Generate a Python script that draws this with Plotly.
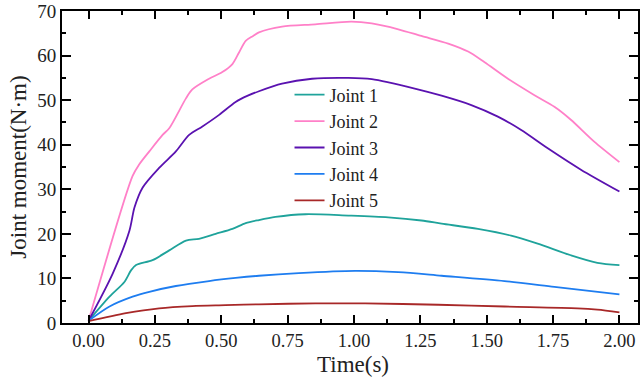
import plotly.graph_objects as go

t1 = [0, 0.079, 0.135, 0.16, 0.179, 0.241, 0.304, 0.367, 0.416, 0.479, 0.542, 0.592, 0.642, 0.704, 0.817, 0.979, 1.129, 1.254, 1.33, 1.467, 1.592, 1.692, 1.817, 1.917, 2.0]
j1 = [0.5, 5.9, 9.2, 11.8, 13.0, 14.1, 16.3, 18.5, 18.9, 20.0, 21.1, 22.4, 23.1, 23.8, 24.4, 24.1, 23.7, 23.0, 22.3, 21.1, 19.6, 17.8, 15.2, 13.5, 13.0]

t2 = [0, 0.166, 0.19, 0.229, 0.279, 0.304, 0.367, 0.391, 0.454, 0.504, 0.542, 0.567, 0.592, 0.62, 0.642, 0.729, 0.854, 0.99, 1.067, 1.167, 1.254, 1.355, 1.43, 1.492, 1.58, 1.68, 1.755, 1.817, 1.905, 2.0]
j2 = [0.5, 33.0, 35.5, 38.5, 42.2, 43.7, 50.4, 52.4, 54.8, 56.3, 58.1, 60.7, 63.3, 64.4, 65.2, 66.5, 67.0, 67.6, 67.2, 65.9, 64.4, 62.7, 60.9, 58.5, 54.8, 51.1, 48.5, 45.6, 40.7, 36.1]

t3 = [0, 0.091, 0.154, 0.173, 0.204, 0.266, 0.329, 0.379, 0.429, 0.492, 0.554, 0.6, 0.642, 0.729, 0.842, 0.979, 1.067, 1.229, 1.33, 1.442, 1.542, 1.63, 1.73, 1.855, 2.0]
j3 = [0.5, 11.1, 20.7, 25.9, 30.4, 34.8, 38.5, 42.2, 44.1, 46.7, 49.6, 51.0, 52.0, 53.7, 54.8, 55.0, 54.7, 52.6, 51.0, 48.9, 46.3, 43.3, 39.2, 34.4, 29.5]

t4 = [0, 0.079, 0.166, 0.229, 0.329, 0.454, 0.554, 0.642, 0.792, 1.004, 1.167, 1.33, 1.567, 1.755, 2.0]
j4 = [0.5, 3.7, 5.9, 7.0, 8.3, 9.4, 10.1, 10.6, 11.2, 11.7, 11.4, 10.6, 9.4, 8.1, 6.4]

t5 = [0, 0.141, 0.266, 0.391, 0.516, 0.642, 0.854, 1.042, 1.317, 1.567, 1.842, 1.917, 2.0]
j5 = [0.4, 2.2, 3.3, 3.8, 4.0, 4.2, 4.4, 4.4, 4.1, 3.7, 3.3, 3.0, 2.4]

names = ["Joint 1", "Joint 2", "Joint 3", "Joint 4", "Joint 5"]
colors = ["#1FA39B", "#FF80C8", "#5A12B0", "#1E7DF0", "#A82828"]
series = [(t1, j1), (t2, j2), (t3, j3), (t4, j4), (t5, j5)]

fig = go.Figure()
for (t, y), n, c in zip(series, names, colors):
    fig.add_trace(go.Scatter(x=t, y=y, mode="lines", name=n,
                             line=dict(color=c, width=1.8, shape="spline", smoothing=0.8)))

font = "Liberation Serif"
axis_common = dict(showline=True, linecolor="black", linewidth=2, mirror="ticks",
                   ticks="inside", tickcolor="black", tickwidth=2, showgrid=False,
                   zeroline=False, ticklabeloverflow="allow")

fig.update_layout(
    width=641, height=380,
    margin=dict(l=62, r=1, t=8, b=57),
    plot_bgcolor="white", paper_bgcolor="white",
    showlegend=True,
    legend=dict(x=0.395, y=0.79, xanchor="left", yanchor="top",
                bgcolor="rgba(0,0,0,0)", font=dict(family=font, size=18, color="#222"),
                tracegroupgap=0),
    xaxis=dict(range=[-0.1, 2.07], tickvals=[0, 0.25, 0.5, 0.75, 1.0, 1.25, 1.5, 1.75, 2.0],
               tickformat=".2f", ticklen=8,
               tickfont=dict(family=font, size=18.5, color="#222"),
               minor=dict(tickvals=[0.125, 0.375, 0.625, 0.875, 1.125, 1.375, 1.625, 1.875],
                          ticklen=4, tickwidth=2, tickcolor="black", ticks="inside"),
               **axis_common),
    yaxis=dict(range=[0, 70], tickvals=[0, 10, 20, 30, 40, 50, 60, 70], ticklen=9,
               tickfont=dict(family=font, size=19, color="#222"),
               minor=dict(tickvals=[5, 15, 25, 35, 45, 55, 65],
                          ticklen=4, tickwidth=2, tickcolor="black", ticks="inside"),
               title=dict(text="Joint moment(N·m)", font=dict(family=font, size=23, color="#222"), standoff=4),
               **axis_common),
    annotations=[dict(text="Time(s)", xref="paper", yref="paper", x=0.505, y=-0.133,
                      xanchor="center", yanchor="middle", showarrow=False,
                      font=dict(family=font, size=23, color="#222"))],
)

fig.write_html("out.html")
